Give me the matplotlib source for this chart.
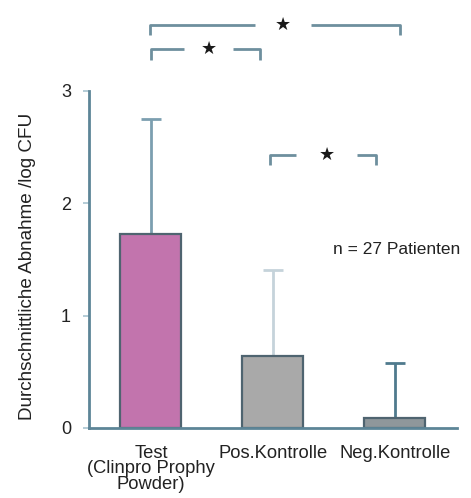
import matplotlib.pyplot as plt

plt.rcParams["font.family"] = ["Liberation Sans", "DejaVu Sans"]

# Daten
gruppen = ["Test\n(Clinpro Prophy\nPowder)", "Pos.Kontrolle", "Neg.Kontrolle"]
mittelwert = [1.73, 0.64, 0.09]
sd_oben = [1.02, 0.77, 0.49]

farben = ["#c274ad", "#a9a9a9", "#8f979b"]
kanten = "#4f6470"
achse = "#5d8597"
fehler_farben = ["#7c9fb0", "#c5d3da", "#4f7a8d"]

fig = plt.figure(figsize=(4.71, 4.98), dpi=100)
ax = fig.add_axes([0.189, 0.1406, 0.781, 0.6767])

x = list(range(len(gruppen)))
ax.bar(x, mittelwert, width=0.5, color=farben, edgecolor=kanten, linewidth=1.6, zorder=2)

for xi, m, s, fc in zip(x, mittelwert, sd_oben, fehler_farben):
    ax.errorbar(xi, m, yerr=[[0], [s]], fmt="none", ecolor=fc, elinewidth=2,
                capsize=7, capthick=2, zorder=1)

ax.set_xlim(-0.508, 2.51)
ax.set_ylim(0, 3)
ax.set_yticks([0, 1, 2, 3])
ax.set_xticks(x)
ax.set_xticklabels(gruppen, fontsize=13.2, color="#222222", linespacing=0.88)
ax.tick_params(axis="x", length=0, pad=12)
ax.tick_params(axis="y", length=4, width=1.2, color="#a8c4d0", labelsize=13,
               labelcolor="#222222", pad=9)

for sp in ["top", "right"]:
    ax.spines[sp].set_visible(False)
for sp in ["left", "bottom"]:
    ax.spines[sp].set_color(achse)
    ax.spines[sp].set_linewidth(2)

ax.set_ylabel("Durchschnittliche Abnahme /log CFU", fontsize=13.6, color="#222222")
ax.yaxis.set_label_coords(-0.143, 0.48)
ax.text(1.49, 1.585, "n = 27 Patienten", fontsize=12.5, color="#222222", va="center", ha="left")


# Signifikanz-Klammern
def klammer(x1, x2, y, xs, lucke, tief=0.09):
    kw = dict(color="#6e8f9e", lw=2, clip_on=False, solid_capstyle="butt")
    ax.plot([x1, x1, xs - lucke], [y - tief, y, y], **kw)
    ax.plot([xs + lucke, x2, x2], [y, y, y - tief], **kw)
    ax.text(xs, y, "★", ha="center", va="center", fontsize=13, color="#1a1a1a",
            family=["DejaVu Sans"], clip_on=False)


klammer(-0.008, 2.04, 3.59, 1.08, 0.23)
klammer(0.0, 0.893, 3.37, 0.475, 0.2)
klammer(0.975, 1.85, 2.43, 1.44, 0.25)

fig.savefig("out.png", dpi=100)
